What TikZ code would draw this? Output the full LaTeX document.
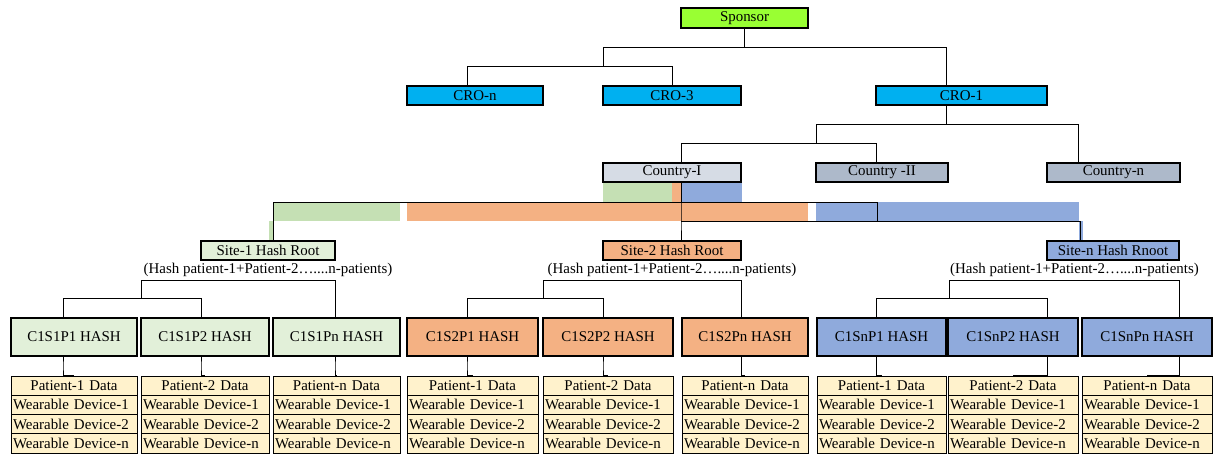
\documentclass[tikz,border=0pt]{standalone}
\usepackage{fontspec}
\setmainfont{Liberation Serif}

\definecolor{sponsorgreen}{RGB}{153,255,51}
\definecolor{crocyan}{RGB}{0,176,240}
\definecolor{ctrylight}{RGB}{214,220,229}
\definecolor{ctrygrey}{RGB}{173,185,202}
\definecolor{bandgreen}{RGB}{197,224,180}
\definecolor{sitegreen}{RGB}{226,240,217}
\definecolor{siteorange}{RGB}{244,177,131}
\definecolor{siteblue}{RGB}{143,170,220}
\definecolor{datayellow}{RGB}{255,242,204}

\tikzset{every picture/.style={line width=0.75pt},
	blk/.style 2 args={draw, line width=0.85pt, inner sep=0pt, minimum width=#1*0.75pt, minimum height=#2*0.75pt, font=\fontsize{11.2}{13}\selectfont},
	cell/.style={draw, line width=0.7pt, fill=datayellow, inner xsep=1.5pt, inner ysep=0pt, minimum height=14.44pt, font=\fontsize{11.2}{13}\selectfont},
	capt/.style={inner sep=0pt, font=\fontsize{11.2}{13}\selectfont}}

\begin{document}
\begin{tikzpicture}[x=0.75pt,y=0.75pt,yscale=-1,xscale=1]
		\useasboundingbox (0,0) rectangle (1213,454);

		%colour bands under Country-I
		\fill[bandgreen] (603,182) rectangle (672,202);
		\fill[bandgreen] (273,202) rectangle (400,221);
		\fill[bandgreen] (269,221) rectangle (273,241);
		\fill[siteorange] (672,182) rectangle (681,202);
		\fill[siteorange] (407,202) rectangle (808,221);
		\fill[siteblue] (681,182) rectangle (742,202);
		\fill[siteblue] (816,202) rectangle (1079,221);
		\fill[siteblue] (1079,221) rectangle (1083,241);

		\node[blk={127}{20}, fill=sponsorgreen] (spon) at (744.5,18) {Sponsor};
		\node[blk={136}{19}, fill=crocyan] (cron) at (475,95.5) {CRO-n};
		\node[blk={138}{19}, fill=crocyan] (crothree) at (672,95.5) {CRO-3};
		\node[blk={171}{19}, fill=crocyan] (croone) at (961.5,95.5) {CRO-1};

		\node[blk={138}{19}, fill=ctrylight] (ctryone) at (672,172.5) {Country-I};
		\node[blk={132}{19}, fill=ctrygrey] (ctrytwo) at (882,172.5) {Country -II};
		\node[blk={133}{19}, fill=ctrygrey] (ctryn) at (1113.5,172.5) {Country-n};

		\node[blk={134}{19}, fill=sitegreen] (siteone) at (268,250.5) {Site-1 Hash Root};
		\node[blk={138}{19}, fill=siteorange] (sitetwo) at (672,250.5) {Site-2 Hash Root};
		\node[blk={132}{19}, fill=siteblue] (siten) at (1113,250.5) {Site-n Hash Rnoot};

		\node[capt] (capone) at (268,270) {(Hash patient-1+Patient-2…....n-patients)};
		\node[capt] (captwo) at (672,270) {(Hash patient-1+Patient-2…....n-patients)};
		\node[capt] (capn) at (1074.5,270) {(Hash patient-1+Patient-2…....n-patients)};

		\node[blk={126}{38}, fill=sitegreen] (hash1) at (74,337) {C1S1P1 HASH};
		\node[blk={128}{38}, fill=sitegreen] (hash2) at (205,337) {C1S1P2 HASH};
		\node[blk={127}{38}, fill=sitegreen] (hash3) at (336.5,337) {C1S1Pn HASH};
		\node[blk={131}{38}, fill=siteorange] (hash4) at (472.5,337) {C1S2P1 HASH};
		\node[blk={130}{38}, fill=siteorange] (hash5) at (608,337) {C1S2P2 HASH};
		\node[blk={126}{38}, fill=siteorange] (hash6) at (745,337) {C1S2Pn HASH};
		\node[blk={129}{38}, fill=siteblue] (hash7) at (881.5,337) {C1SnP1 HASH};
		\node[blk={130}{38}, fill=siteblue] (hash8) at (1013,337) {C1SnP2 HASH};
		\node[blk={130}{38}, fill=siteblue] (hash9) at (1147,337) {C1SnPn HASH};

		%patient data tables
		\foreach \n/\a/\b/\lx/\p in {1/11/137/63/1, 2/141/269/201/2, 3/273/400/335/n, 4/407/538/467/1, 5/543/673/603/2, 6/682/808/741/n, 7/817/946/876/1, 8/948/1078/1047/2, 9/1082/1212/1179/n}{
			\pgfmathsetmacro\cx{(\a+\b)/2}
			\pgfmathsetmacro\tw{(\b-\a)*0.75-3}
			\node[cell, text width=\tw pt, align=center] (dat\n-0) at (\cx,385.625) {Patient-\p{} Data};
			\node[cell, text width=\tw pt, align=left] (dat\n-1) at (\cx,404.875) {Wearable Device-1};
			\node[cell, text width=\tw pt, align=left] (dat\n-2) at (\cx,424.125) {Wearable Device-2};
			\node[cell, text width=\tw pt, align=left] (dat\n-3) at (\cx,443.375) {Wearable Device-n};
			\draw (hash\n.south) -| (\lx,366) |- (dat\n-0.north);
		}

		%sponsor and CRO links
		\draw (spon.south) |- (946,47) |- (croone.north);
		\draw (spon.south) |- (603,47) -- (603,66);
		\draw (cron.north) -| (467,66) -| (crothree.north);
		\draw (croone.south) -| (946,124) -- (1078,124) |- (ctryn.north);
		\draw (946,124) -- (816,124) |- (876,143) |- (ctrytwo.north);
		\draw (816,143) -- (681,143) |- (ctryone.north);

		%country to sites
		\draw (ctryone.south) -| (681,221) |- (sitetwo.north);
		\draw (siteone.north) -| (273,202) -- (877,202) -- (877,221);
		\draw (681,221) -- (1080,221) |- (siten.north);

		%site to patient hashes
		\draw (hash1.north) -| (63,298) -- (201,298) |- (hash2.north);
		\draw (141,298) |- (335,280) |- (hash3.north);
		\draw (hash4.north) -| (467,298) -- (603,298) |- (hash5.north);
		\draw (543,298) |- (741,280) |- (hash6.north);
		\draw (hash7.north) -| (876,298) -- (1047,298) |- (hash8.north);
		\draw (949,298) |- (1179,280) |- (hash9.north);

\end{tikzpicture}
\end{document}
